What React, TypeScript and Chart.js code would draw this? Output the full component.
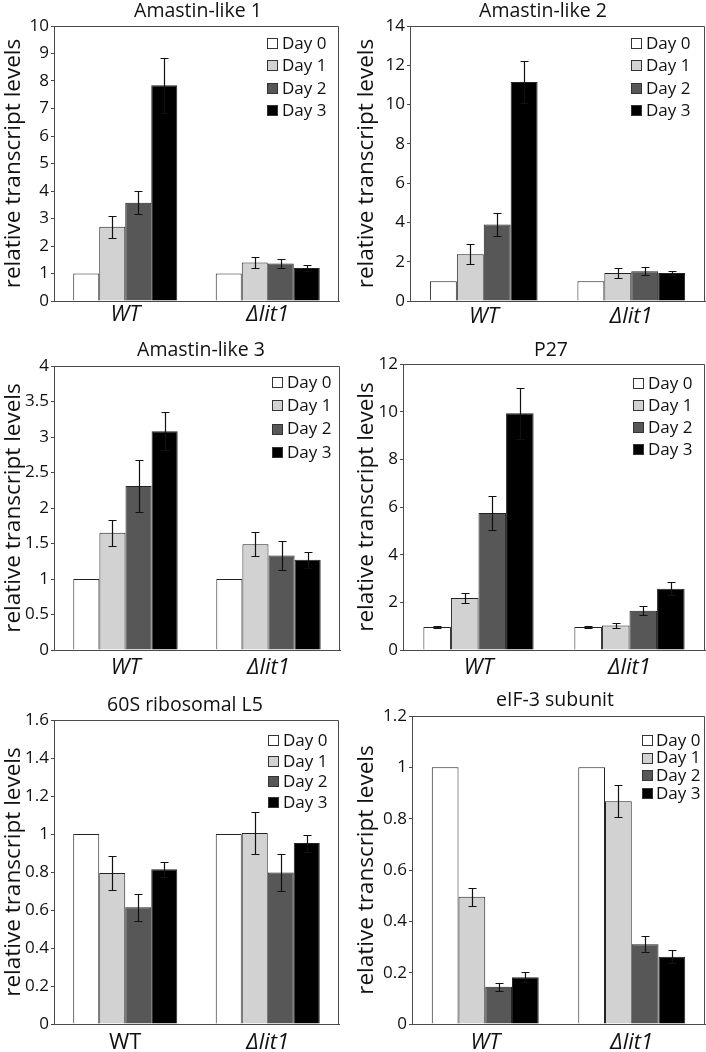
import React, { useEffect, useRef } from 'react';
import { Chart, registerables } from 'chart.js';

Chart.register(...registerables);

const FONT = "'Open Sans', sans-serif";
const AXIS = '#4a4a4a';
const INK = '#111111';

const CATEGORIES = ['WT', 'Δlit1'];
const DAY_LABELS = ['Day 0', 'Day 1', 'Day 2', 'Day 3'];
const DAY_COLORS = ['#ffffff', '#d2d2d2', '#575757', '#000000'];
const Y_TITLE = 'relative transcript levels';

// Amastin-like 1
const AM1_WT = [1, 2.7, 3.57, 7.85];
const AM1_WT_ERR = [0, 0.4, 0.42, 1.0];
const AM1_LIT = [1, 1.4, 1.36, 1.2];
const AM1_LIT_ERR = [0, 0.21, 0.16, 0.12];

// Amastin-like 2
const AM2_WT = [1, 2.38, 3.9, 11.15];
const AM2_WT_ERR = [0, 0.5, 0.6, 1.07];
const AM2_LIT = [1, 1.42, 1.52, 1.43];
const AM2_LIT_ERR = [0, 0.27, 0.22, 0.12];

// Amastin-like 3
const AM3_WT = [1, 1.65, 2.31, 3.08];
const AM3_WT_ERR = [0, 0.18, 0.37, 0.27];
const AM3_LIT = [1, 1.49, 1.33, 1.27];
const AM3_LIT_ERR = [0, 0.17, 0.21, 0.11];

// P27
const P27_WT = [0.97, 2.18, 5.75, 9.93];
const P27_WT_ERR = [0.04, 0.22, 0.7, 1.07];
const P27_LIT = [0.97, 1.03, 1.65, 2.57];
const P27_LIT_ERR = [0.03, 0.12, 0.2, 0.27];

// 60S ribosomal L5
const L5_WT = [1, 0.795, 0.614, 0.814];
const L5_WT_ERR = [0, 0.088, 0.071, 0.04];
const L5_LIT = [1, 1.005, 0.797, 0.952];
const L5_LIT_ERR = [0, 0.11, 0.096, 0.045];

// eIF-3 subunit
const EIF_WT = [1, 0.496, 0.145, 0.182];
const EIF_WT_ERR = [0, 0.035, 0.016, 0.019];
const EIF_LIT = [1, 0.868, 0.311, 0.262];
const EIF_LIT_ERR = [0, 0.062, 0.032, 0.026];

type Panel = {
  title: string;
  wt: number[];
  wtErr: number[];
  lit: number[];
  litErr: number[];
  yMax: number;
  yStep: number;
  uprightWT: boolean;
  left: number;
  top: number;
  width: number;
  height: number;
  padTop: number;
  padRight: number;
  yWidth: number;
  xHeight: number;
  xLabelPad: number;
  titleX: number;
  titleY: number;
  legendBoxX: number;
  legendTextX: number;
  legendY: number;
  legendGap: number;
};

const PANELS: Panel[] = [
  {
    title: 'Amastin-like 1', wt: AM1_WT, wtErr: AM1_WT_ERR, lit: AM1_LIT, litErr: AM1_LIT_ERR,
    yMax: 10, yStep: 1, uprightWT: false,
    left: 0, top: 0, width: 353, height: 330, padTop: 26, padRight: 14, yWidth: 54, xHeight: 29, xLabelPad: 1,
    titleX: 198, titleY: 11, legendBoxX: 267, legendTextX: 282, legendY: 43, legendGap: 22.4,
  },
  {
    title: 'Amastin-like 2', wt: AM2_WT, wtErr: AM2_WT_ERR, lit: AM2_LIT, litErr: AM2_LIT_ERR,
    yMax: 14, yStep: 2, uprightWT: false,
    left: 353, top: 0, width: 353, height: 330, padTop: 26, padRight: 1, yWidth: 57, xHeight: 29, xLabelPad: 3,
    titleX: 190, titleY: 11, legendBoxX: 278, legendTextX: 293, legendY: 43, legendGap: 22.4,
  },
  {
    title: 'Amastin-like 3', wt: AM3_WT, wtErr: AM3_WT_ERR, lit: AM3_LIT, litErr: AM3_LIT_ERR,
    yMax: 4, yStep: 0.5, uprightWT: false,
    left: 0, top: 330, width: 353, height: 352, padTop: 36, padRight: 13, yWidth: 54, xHeight: 32, xLabelPad: 5,
    titleX: 201, titleY: 20, legendBoxX: 272, legendTextX: 287, legendY: 52, legendGap: 23.3,
  },
  {
    title: 'P27', wt: P27_WT, wtErr: P27_WT_ERR, lit: P27_LIT, litErr: P27_LIT_ERR,
    yMax: 12, yStep: 2, uprightWT: false,
    left: 353, top: 330, width: 353, height: 352, padTop: 34, padRight: 1, yWidth: 50, xHeight: 32, xLabelPad: 5,
    titleX: 198, titleY: 20, legendBoxX: 280, legendTextX: 295, legendY: 53, legendGap: 22,
  },
  {
    title: '60S ribosomal L5', wt: L5_WT, wtErr: L5_WT_ERR, lit: L5_LIT, litErr: L5_LIT_ERR,
    yMax: 1.6, yStep: 0.2, uprightWT: true,
    left: 0, top: 670, width: 353, height: 382, padTop: 50, padRight: 14, yWidth: 54, xHeight: 28, xLabelPad: 6,
    titleX: 185, titleY: 35, legendBoxX: 268, legendTextX: 283, legendY: 70, legendGap: 20.7,
  },
  {
    title: 'eIF-3 subunit', wt: EIF_WT, wtErr: EIF_WT_ERR, lit: EIF_LIT, litErr: EIF_LIT_ERR,
    yMax: 1.2, yStep: 0.2, uprightWT: false,
    left: 353, top: 670, width: 353, height: 382, padTop: 46, padRight: 1, yWidth: 59, xHeight: 28, xLabelPad: 6,
    titleX: 202, titleY: 30, legendBoxX: 289, legendTextX: 303, legendY: 70, legendGap: 17.6,
  },
];

const errorBarPlugin = {
  id: 'errorBars',
  afterDatasetsDraw(chart: any, _args: any, opts: any) {
    const { ctx } = chart;
    const y = chart.scales.y;
    const cap = 4;
    ctx.save();
    ctx.strokeStyle = '#111';
    ctx.lineWidth = 1.2;
    chart.data.datasets.forEach((ds: any, i: number) => {
      const meta = chart.getDatasetMeta(i);
      const errs = opts.errors[i];
      meta.data.forEach((bar: any, j: number) => {
        const e = errs[j];
        if (!e) return;
        const v = ds.data[j];
        const x = Math.round(bar.x) + 0.5;
        const yt = Math.round(y.getPixelForValue(v + e)) + 0.5;
        const yb = Math.round(y.getPixelForValue(v - e)) + 0.5;
        ctx.beginPath();
        ctx.moveTo(x, yt);
        ctx.lineTo(x, yb);
        ctx.moveTo(x - cap, yt);
        ctx.lineTo(x + cap, yt);
        ctx.moveTo(x - cap, yb);
        ctx.lineTo(x + cap, yb);
        ctx.stroke();
      });
    });
    ctx.restore();
  },
};

const boxPlugin = {
  id: 'plotBox',
  beforeDatasetsDraw(chart: any) {
    const { ctx, chartArea } = chart;
    const l = Math.round(chartArea.left) + 0.5;
    const r = Math.round(chartArea.right) - 0.5;
    const t = Math.round(chartArea.top) + 0.5;
    const b = Math.round(chartArea.bottom) + 0.5;
    ctx.save();
    ctx.strokeStyle = AXIS;
    ctx.lineWidth = 1;
    ctx.beginPath();
    ctx.moveTo(l, t);
    ctx.lineTo(r, t);
    ctx.lineTo(r, b);
    ctx.stroke();
    ctx.restore();
  },
};

const titleLegendPlugin = {
  id: 'titleLegend',
  afterDraw(chart: any, _args: any, opts: any) {
    const { ctx } = chart;
    ctx.save();
    ctx.fillStyle = INK;
    ctx.font = `19.5px ${FONT}`;
    ctx.textAlign = 'center';
    ctx.textBaseline = 'middle';
    ctx.fillText(opts.title, opts.titleX, opts.titleY);

    ctx.font = `17px ${FONT}`;
    ctx.textAlign = 'left';
    chart.data.datasets.forEach((ds: any, i: number) => {
      const yc = opts.legendY + i * opts.legendGap;
      const s = 10;
      const bx = Math.round(opts.legendBoxX) + 0.5;
      const by = Math.round(yc - s / 2) + 0.5;
      ctx.fillStyle = ds.backgroundColor;
      ctx.fillRect(bx, by, s, s);
      ctx.strokeStyle = '#333';
      ctx.lineWidth = 1;
      ctx.strokeRect(bx, by, s, s);
      ctx.fillStyle = INK;
      ctx.fillText(ds.label, opts.legendTextX, yc + 1);
    });
    ctx.restore();
  },
};

function PanelChart({ p }: { p: Panel }) {
  const ref = useRef<HTMLCanvasElement | null>(null);

  useEffect(() => {
    if (!ref.current) return;
    const datasets = DAY_LABELS.map((label, d) => ({
      label,
      data: [p.wt[d], p.lit[d]],
      backgroundColor: DAY_COLORS[d],
      borderColor: '#222222',
      borderWidth: 1,
      barPercentage: 1,
      categoryPercentage: 0.73,
    }));
    const errors = DAY_LABELS.map((_, d) => [p.wtErr[d], p.litErr[d]]);

    const chart = new Chart(ref.current, {
      type: 'bar',
      data: { labels: CATEGORIES, datasets },
      options: {
        responsive: false,
        animation: false,
        events: [],
        layout: { padding: { top: p.padTop, right: p.padRight, left: 0, bottom: 0 } },
        scales: {
          x: {
            offset: true,
            grid: { display: false, drawTicks: false },
            border: { display: true, color: AXIS, width: 1 },
            ticks: {
              color: INK,
              padding: p.xLabelPad,
              maxRotation: 0,
              autoSkip: false,
              font: (c: any) => ({
                family: FONT,
                size: 22,
                style: p.uprightWT && c.index === 0 ? 'normal' : 'italic',
              }),
            },
            afterFit: (s: any) => {
              s.height = p.xHeight;
            },
          },
          y: {
            min: 0,
            max: p.yMax,
            grid: { display: true, drawOnChartArea: false, drawTicks: true, tickLength: 3, color: AXIS },
            border: { display: true, color: AXIS, width: 1 },
            ticks: {
              stepSize: p.yStep,
              color: INK,
              padding: 2,
              font: { family: FONT, size: 17 },
              callback: (v: any) => String(Math.round(Number(v) * 1000) / 1000),
            },
            title: {
              display: true,
              text: Y_TITLE,
              color: INK,
              padding: 0,
              font: { family: FONT, size: 22.5 },
            },
            afterFit: (s: any) => {
              s.width = p.yWidth;
            },
          },
        },
        plugins: {
          legend: { display: false },
          tooltip: { enabled: false },
          title: { display: false },
          errorBars: { errors },
          titleLegend: {
            title: p.title,
            titleX: p.titleX,
            titleY: p.titleY,
            legendBoxX: p.legendBoxX,
            legendTextX: p.legendTextX,
            legendY: p.legendY,
            legendGap: p.legendGap,
          },
        } as any,
      },
      plugins: [boxPlugin, errorBarPlugin, titleLegendPlugin],
    });
    return () => chart.destroy();
  }, [p]);

  return (
    <canvas
      ref={ref}
      width={p.width}
      height={p.height}
      style={{ position: 'absolute', left: p.left, top: p.top, width: p.width, height: p.height }}
    />
  );
}

export default function App() {
  return (
    <div style={{ position: 'absolute', left: 0, top: 0, width: 706, height: 1052, background: '#ffffff' }}>
      {PANELS.map((p) => (
        <PanelChart key={p.title} p={p} />
      ))}
    </div>
  );
}
